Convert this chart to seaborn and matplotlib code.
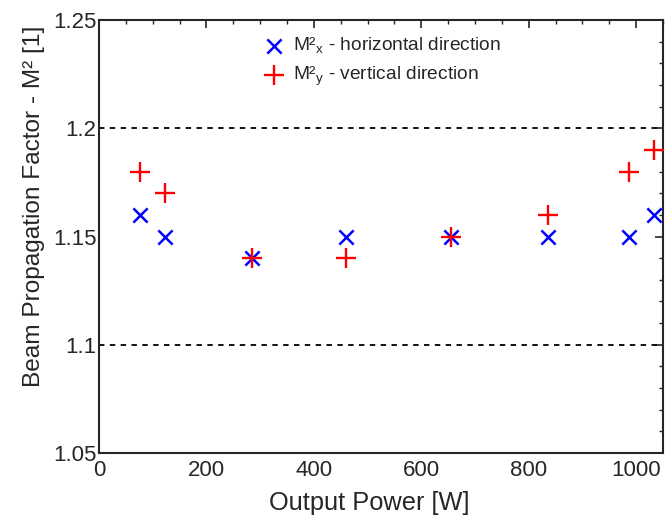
import matplotlib
matplotlib.use("Agg")
import matplotlib.pyplot as plt
import seaborn as sns
import pandas as pd
from matplotlib.ticker import MultipleLocator

power = [76, 123, 285, 459, 655, 836, 987, 1034]
m2x = [1.16, 1.15, 1.14, 1.15, 1.15, 1.15, 1.15, 1.16]
m2y = [1.18, 1.17, 1.14, 1.14, 1.15, 1.16, 1.18, 1.19]
label_x = "M²$_{\\mathregular{x}}$ - horizontal direction"
label_y = "M²$_{\\mathregular{y}}$ - vertical direction"

sns.set_style("white")
plt.rcParams['font.family'] = ['Liberation Sans', 'DejaVu Sans']
plt.rcParams['mathtext.fontset'] = 'custom'
plt.rcParams['mathtext.rm'] = 'Liberation Sans'

fig = plt.figure(figsize=(6.65, 5.21), dpi=100)
ax = fig.add_axes([0.149, 0.1305, 0.848, 0.831])

dfx = pd.DataFrame({"p": power, "m": m2x})
dfy = pd.DataFrame({"p": power, "m": m2y})
sns.scatterplot(data=dfx, x="p", y="m", marker="x", color="blue", s=105,
                linewidth=1.8, ax=ax, label=label_x, zorder=3)
sns.scatterplot(data=dfy, x="p", y="m", marker="+", color="red", s=225,
                linewidth=1.7, ax=ax, label=label_y, zorder=3)

for yv in [1.1, 1.2]:
    ax.axhline(yv, color="black", linestyle=(0, (3, 3)), linewidth=1.3, zorder=1)

ax.set_xlim(0, 1050)
ax.set_ylim(1.05, 1.25)
ax.set_xticks([0, 200, 400, 600, 800, 1000])
ax.set_yticks([1.05, 1.1, 1.15, 1.2, 1.25])
ax.set_yticklabels(["1.05", "1.1", "1.15", "1.2", "1.25"])
ax.xaxis.set_minor_locator(MultipleLocator(50))
ax.yaxis.set_minor_locator(MultipleLocator(0.01))
ax.tick_params(which="both", direction="in", top=True, right=True,
               labelsize=16, colors="#262626")
ax.tick_params(which="major", length=6, width=1.2)
ax.tick_params(axis="x", which="major", pad=5)
ax.tick_params(axis="y", which="major", pad=2)
ax.tick_params(which="minor", length=3, width=1.0)
for s in ax.spines.values():
    s.set_color("#262626")
    s.set_linewidth(1.5)

ax.set_xlabel("Output Power [W]", fontsize=18.3, color="#262626")
ax.xaxis.set_label_coords((369 - 99) / 564, -0.088)
ax.set_ylabel("Beam Propagation Factor - M² [1]", fontsize=17.6, color="#262626")
ax.yaxis.set_label_coords(-0.096, (453 - 206) / 433)

leg = ax.legend(loc="upper left", bbox_to_anchor=((255 - 99) / 564, 0.981), frameon=False,
                fontsize=13.8, handlelength=1.2, handletextpad=0.4, labelspacing=0.45,
                borderaxespad=0.0)
for t in leg.get_texts():
    t.set_color("#262626")

fig.savefig("out.png", dpi=100)
